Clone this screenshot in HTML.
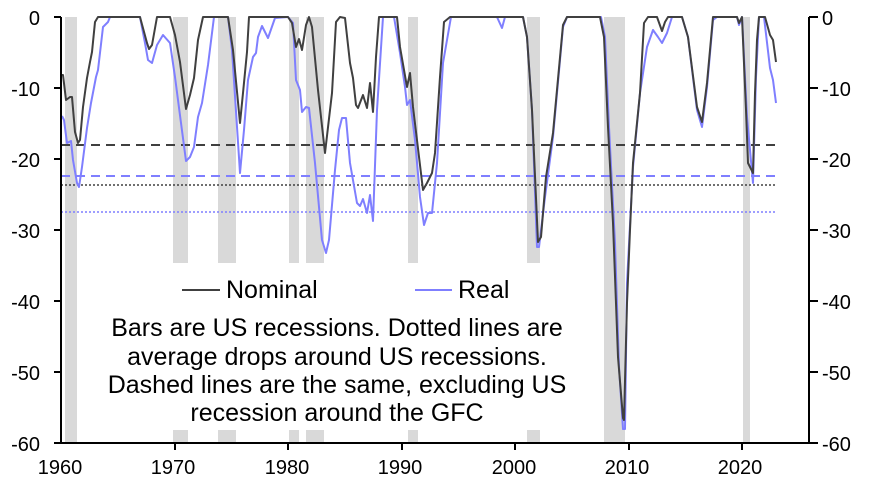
<!DOCTYPE html>
<html><head><meta charset="utf-8"><style>
body{margin:0;background:#fff}
svg{display:block}
text{font-family:"Liberation Sans",Arial,sans-serif;font-size:20px;fill:#000}
.big{font-size:25px}
</style></head><body>
<svg width="877" height="486" viewBox="0 0 877 486">
<g fill="#d9d9d9">
<rect x="65" y="17" width="12" height="426"/>
<rect x="173" y="17" width="15" height="246"/><rect x="173" y="430" width="15" height="13"/>
<rect x="218" y="17" width="18" height="246"/><rect x="218" y="430" width="18" height="13"/>
<rect x="289" y="17" width="10" height="246"/><rect x="289" y="430" width="10" height="13"/>
<rect x="306" y="17" width="18" height="246"/><rect x="306" y="430" width="18" height="13"/>
<rect x="408" y="17" width="10" height="246"/><rect x="408" y="430" width="10" height="13"/>
<rect x="527" y="17" width="13" height="246"/><rect x="527" y="430" width="13" height="13"/>
<rect x="604" y="17" width="21" height="426"/>
<rect x="743" y="17" width="7" height="426"/>
</g>
<line x1="61" y1="145" x2="775" y2="145" stroke="#404040" stroke-width="2" stroke-dasharray="9,6"/>
<line x1="61" y1="176" x2="775" y2="176" stroke="#7f7fff" stroke-width="2" stroke-dasharray="9,6"/>
<line x1="61" y1="185" x2="775" y2="185" stroke="#404040" stroke-width="1.5" stroke-dasharray="2,2"/>
<line x1="61" y1="212" x2="775" y2="212" stroke="#7f7fff" stroke-width="1.5" stroke-dasharray="2,2"/>
<polyline fill="none" stroke="#7f7fff" stroke-width="2" stroke-linejoin="round" points="62,116 64,120 67,143 71,141 73,160 77,183 79,187 82,167 87,128 91,103 96,77 98,70 103,27 108,22 110,17 140,17 145,43 148,60 152,63 157,45 163,35 170,43 175,77 181,123 186,161 190,157 194,147 198,117 202,103 208,65 214,17 228,17 232,50 240,173 244,130 248,80 253,57 256,53 258,37 262,26 268,38 275,18 288,17 293,23 296,80 300,90 302,112 306,107 309,108 315,163 322,240 326,253 329,240 335,170 339,130 342,118 346,118 350,163 357,203 360,206 363,199 367,213 370,195 373,221 377,110 383,17 394,17 400,53 405,87 407,105 410,100 415,140 420,197 424,225 428,213 432,213 437,163 443,63 451,17 497,17 502,28 505,17 523,17 527,37 532,110 537,247 539,247 545,197 553,137 563,27 567,17 601,17 605,37 609,127 615,243 619,367 623,429 625,429 627,283 633,167 640,93 647,47 653,30 658,37 662,43 667,33 672,17 682,17 688,37 697,110 702,127 707,87 713,20 717,17 737,17 739,25 742,17 747,117 753,183 756,77 759,17 764,17 770,68 773,80 776,103"/>
<polyline fill="none" stroke="#404040" stroke-width="2" stroke-linejoin="round" points="62,75 63,75 66,100 70,97 72,97 75,132 78,143 80,140 83,107 87,78 90,62 92,52 95,22 98,17 140,17 147,43 149,49 152,45 157,17 170,17 175,35 180,62 186,109 190,95 194,78 198,40 203,17 228,17 233,50 240,123 243,93 247,52 249,17 288,17 292,23 296,47 299,39 302,50 306,25 309,17 312,27 318,90 325,153 332,93 336,22 340,17 345,18 350,63 353,78 356,105 358,108 363,95 367,108 370,83 373,112 376,57 379,17 397,17 400,47 407,87 410,73 413,107 423,190 427,183 432,173 435,153 440,77 444,22 450,17 523,17 527,37 532,110 538,242 541,237 546,177 553,133 563,25 567,17 600,17 604,37 608,127 613,223 618,357 623,418 624,420 627,303 630,230 633,163 640,93 644,23 648,17 657,17 662,31 665,22 668,17 682,17 688,37 697,107 702,122 707,83 713,17 737,17 739,23 742,17 746,110 748,163 753,173 755,93 757,40 759,17 765,17 770,35 773,40 776,62"/>
<g stroke="#000" stroke-width="2" fill="none">
<line x1="61" y1="17" x2="61" y2="444"/>
<line x1="809" y1="17" x2="809" y2="444"/>
<line x1="60" y1="443" x2="810" y2="443"/>
<path d="M54 17H61M54 88H61M54 159H61M54 230H61M54 301H61M54 372H61M54 443H61"/>
<path d="M809 17H818M809 88H818M809 159H818M809 230H818M809 301H818M809 372H818M809 443H818"/>
<path d="M175 443V450M288 443V450M402 443V450M515 443V450M629 443V450M742 443V450"/>
</g>
<g text-anchor="end">
<text x="40" y="25">0</text><text x="40" y="96">-10</text><text x="40" y="167">-20</text><text x="40" y="238">-30</text><text x="40" y="309">-40</text><text x="40" y="380">-50</text><text x="40" y="451">-60</text>
</g>
<g>
<text x="822" y="25">0</text><text x="822" y="96">-10</text><text x="822" y="167">-20</text><text x="822" y="238">-30</text><text x="822" y="309">-40</text><text x="822" y="380">-50</text><text x="822" y="451">-60</text>
</g>
<g text-anchor="middle">
<text x="60" y="474">1960</text><text x="173" y="474">1970</text><text x="287" y="474">1980</text><text x="400" y="474">1990</text><text x="514" y="474">2000</text><text x="627" y="474">2010</text><text x="740" y="474">2020</text>
</g>
<line x1="182" y1="290" x2="220" y2="290" stroke="#404040" stroke-width="2"/>
<text class="big" x="226" y="298">Nominal</text>
<line x1="415" y1="290" x2="452" y2="290" stroke="#7f7fff" stroke-width="2"/>
<text class="big" x="458" y="298">Real</text>
<g text-anchor="middle">
<text class="big" x="337" y="336">Bars are US recessions. Dotted lines are</text>
<text class="big" x="337" y="365">average drops around US recessions.</text>
<text class="big" x="337" y="393">Dashed lines are the same, excluding US</text>
<text class="big" x="337" y="421">recession around the GFC</text>
</g>
</svg>
</body></html>
